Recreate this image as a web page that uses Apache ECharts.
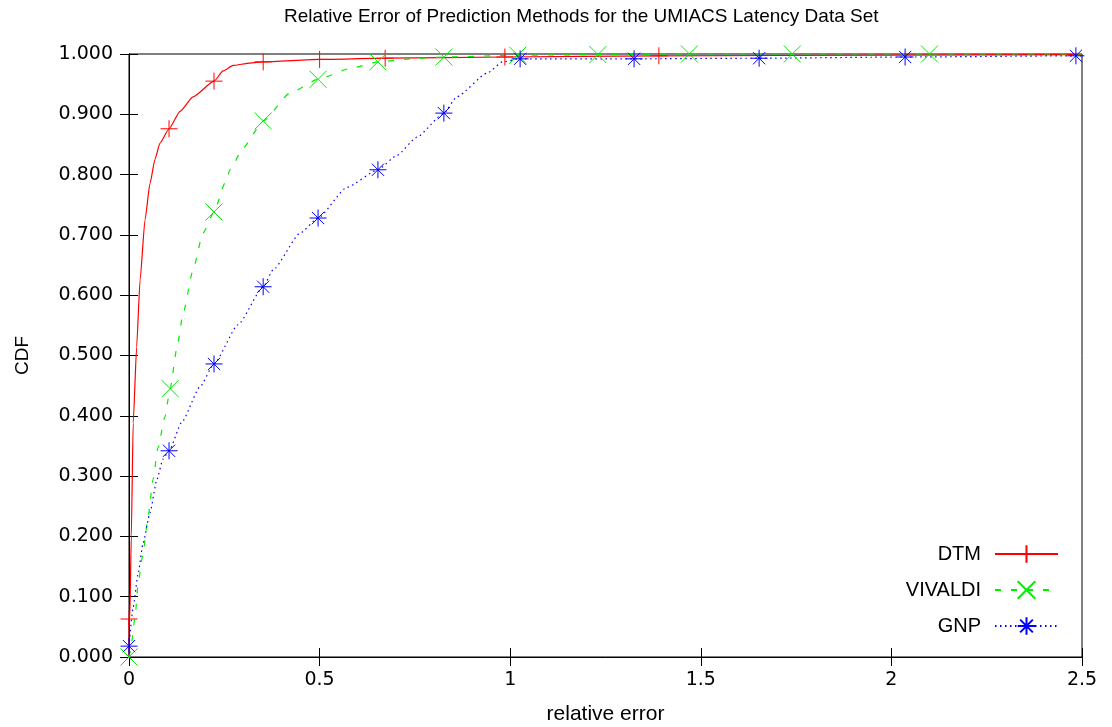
<!DOCTYPE html>
<html>
<head>
<meta charset="utf-8">
<script src="https://cdn.jsdelivr.net/npm/echarts@6/dist/echarts.min.js"></script>
<style>
html,body{margin:0;padding:0;background:#fff;}
#chart{width:1112px;height:727px;}
</style>
</head>
<body>
<div id="chart"></div>
<script>
// ---- Data ----
var titleText = 'Relative Error of Prediction Methods for the UMIACS Latency Data Set';
var xName = 'relative error';
var yName = 'CDF';
var seriesNames = ['DTM', 'VIVALDI', 'GNP'];

var dtmCurve = [[0,0],[0.002,0.063],[0.006,0.2],[0.011,0.388],[0.02,0.514],[0.029,0.625],[0.042,0.725],[0.055,0.785],[0.068,0.825],[0.081,0.852],[0.105,0.876],[0.134,0.905],[0.168,0.929],[0.223,0.955],[0.247,0.972],[0.273,0.981],[0.317,0.985],[0.352,0.987],[0.5,0.991],[0.672,0.993],[0.986,0.995],[1.39,0.997],[2.0,0.998],[2.5,0.999]];
var dtmMarks = [[0,0.063],[0.105,0.876],[0.223,0.955],[0.352,0.987],[0.5,0.991],[0.672,0.993],[0.986,0.995],[1.39,0.997]];

var vivCurve = [[0,0],[0.003,0.007],[0.016,0.066],[0.024,0.123],[0.037,0.172],[0.05,0.232],[0.063,0.294],[0.076,0.347],[0.094,0.398],[0.108,0.445],[0.125,0.51],[0.142,0.57],[0.168,0.642],[0.194,0.703],[0.223,0.738],[0.252,0.786],[0.265,0.808],[0.3,0.845],[0.352,0.889],[0.422,0.935],[0.496,0.958],[0.58,0.976],[0.653,0.987],[0.74,0.992],[0.826,0.995],[1.02,0.998],[1.23,0.999],[1.47,1.0],[2.5,1.0]];
var vivMarks = [[0,0],[0.108,0.445],[0.223,0.738],[0.352,0.889],[0.496,0.958],[0.653,0.987],[0.826,0.995],[1.02,0.998],[1.23,0.999],[1.47,1.0],[1.74,1.0],[2.10,1.0]];

var gnpCurve = [[0,0.018],[0.011,0.083],[0.024,0.139],[0.037,0.189],[0.055,0.239],[0.073,0.294],[0.089,0.328],[0.105,0.342],[0.139,0.39],[0.186,0.448],[0.223,0.486],[0.286,0.551],[0.352,0.614],[0.378,0.642],[0.449,0.703],[0.496,0.728],[0.572,0.779],[0.653,0.808],[0.703,0.832],[0.755,0.862],[0.826,0.902],[0.86,0.929],[0.939,0.968],[0.98,0.987],[1.026,0.992],[1.325,0.992],[1.653,0.993],[2.036,0.995],[2.484,0.997],[2.5,0.997]];
var gnpMarks = [[0,0.018],[0.105,0.342],[0.223,0.486],[0.352,0.614],[0.496,0.728],[0.653,0.808],[0.826,0.902],[1.026,0.992],[1.325,0.992],[1.653,0.993],[2.036,0.995],[2.484,0.997]];

var xMin = 0, xMax = 2.5, xStep = 0.5;
var yMin = 0, yMax = 1, yStep = 0.1;

// ---- Build ----
var SYM_PLUS = 'path://M0,-1L0,1M-1,0L1,0';
var SYM_CROSS = 'path://M-1,-1L1,1M-1,1L1,-1';
var SYM_STAR = 'path://M0,-1L0,1M-1,0L1,0M-0.72,-0.72L0.72,0.72M-0.72,0.72L0.72,-0.72';

function merge(curve, marks) {
  var items = [];
  curve.forEach(function (p) { items.push({ value: p, symbol: 'none', _m: 0 }); });
  marks.forEach(function (p) { items.push({ value: p, _m: 1 }); });
  items.sort(function (a, b) { return a.value[0] - b.value[0] || a._m - b._m; });
  var out = [];
  items.forEach(function (it) {
    var last = out[out.length - 1];
    if (last && last.value[0] === it.value[0] && last.value[1] === it.value[1]) {
      if (!it.symbol) delete last.symbol;
      return;
    }
    var o = { value: it.value };
    if (it.symbol) o.symbol = it.symbol;
    out.push(o);
  });
  return out;
}

function makeSeries(name, curve, marks, color, sym, symSize, lineType, lw) {
  return {
    name: name,
    type: 'line',
    xAxisIndex: 0,
    yAxisIndex: 0,
    data: merge(curve, marks),
    symbol: sym,
    symbolSize: symSize,
    showSymbol: true,
    showAllSymbol: true,
    smooth: 0.18,
    smoothMonotone: 'x',
    animation: false,
    clip: false,
    lineStyle: { color: color, width: lw, type: lineType },
    itemStyle: { color: color, borderColor: color, borderWidth: 1 },
    emphasis: { disabled: true }
  };
}

var chart = echarts.init(document.getElementById('chart'), null, { renderer: 'canvas' });

var tickFont = 'DejaVu Sans';
var textFont = 'Liberation Sans';

var option = {
  backgroundColor: '#ffffff',
  animation: false,
  title: {
    text: titleText,
    left: 279,
    top: 2,
    textStyle: { fontFamily: textFont, fontSize: 19, fontWeight: 'normal', color: '#000' }
  },
  legend: {
    orient: 'vertical',
    right: 48,
    top: 539,
    align: 'right',
    itemWidth: 63,
    itemHeight: 22,
    itemGap: 16,
    data: seriesNames,
    selectedMode: false,
    textStyle: { fontFamily: textFont, fontSize: 20, color: '#000', padding: [0, 9, 0, 0] }
  },
  grid: {
    left: 129, right: 30, top: 54, bottom: 70,
    outerBoundsMode: 'none',
    containLabel: false,
    show: true, borderColor: '#000', borderWidth: 1, backgroundColor: 'transparent'
  },
  xAxis: [{
    type: 'value', min: xMin, max: xMax, interval: xStep, position: 'bottom',
    name: xName, nameLocation: 'middle', nameGap: 47,
    nameTextStyle: { fontFamily: textFont, fontSize: 21, color: '#000' },
    axisLine: { show: true, lineStyle: { color: '#000', width: 1 } },
    axisTick: { show: true, inside: true, length: 9, lineStyle: { color: '#000' } },
    axisLabel: { fontFamily: tickFont, fontSize: 19, color: '#000', margin: 14 },
    splitLine: { show: false }
  }, {
    type: 'value', min: xMin, max: xMax, interval: xStep, position: 'top',
    axisLine: { show: true, lineStyle: { color: '#000', width: 1 } },
    axisTick: { show: true, inside: true, length: 9, lineStyle: { color: '#000' } },
    axisLabel: { show: false },
    splitLine: { show: false }
  }],
  yAxis: [{
    type: 'value', min: yMin, max: yMax, interval: yStep, position: 'left',
    name: yName, nameLocation: 'middle', nameGap: 97, nameRotate: 90,
    nameTextStyle: { fontFamily: textFont, fontSize: 19, color: '#000' },
    axisLine: { show: true, lineStyle: { color: '#000', width: 1 } },
    axisTick: { show: true, inside: true, length: 9, lineStyle: { color: '#000' } },
    axisLabel: { fontFamily: tickFont, fontSize: 19, color: '#000', margin: 16,
      formatter: function (v) { return v.toFixed(3); } },
    splitLine: { show: false }
  }, {
    type: 'value', min: yMin, max: yMax, interval: yStep, position: 'right',
    axisLine: { show: true, lineStyle: { color: '#000', width: 1 } },
    axisTick: { show: true, inside: true, length: 9, lineStyle: { color: '#000' } },
    axisLabel: { show: false },
    splitLine: { show: false }
  }],
  series: [
    makeSeries(seriesNames[0], dtmCurve, dtmMarks, '#ff0000', SYM_PLUS, 17, 'solid', 1.2),
    makeSeries(seriesNames[1], vivCurve, vivMarks, '#00ee00', SYM_CROSS, 17, [6, 10], 1.2),
    makeSeries(seriesNames[2], gnpCurve, gnpMarks, '#0000ff', SYM_STAR, 17, [1.5, 3.5], 1.2)
  ]
};

chart.setOption(option);
</script>
</body>
</html>
